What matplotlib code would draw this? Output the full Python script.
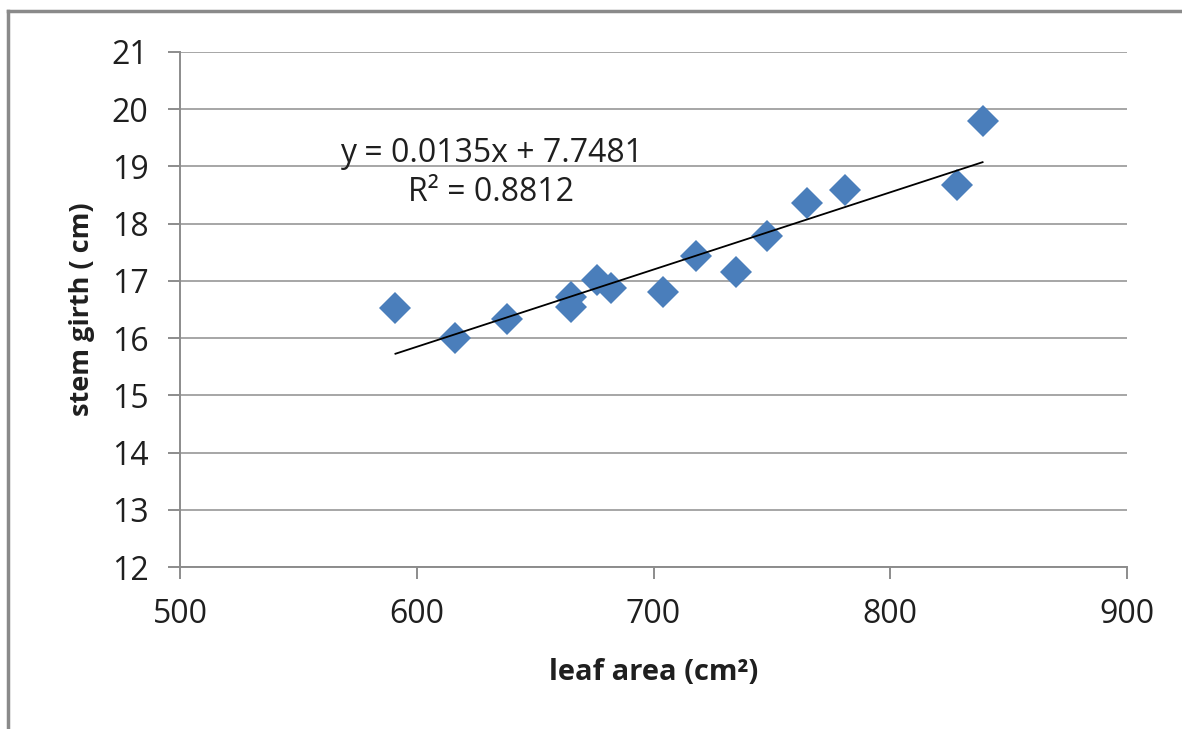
import matplotlib.pyplot as plt
import matplotlib.lines as mlines

# leaf area (cm2) vs stem girth (cm)
leaf_area = [591, 616, 638, 665, 665, 676, 682, 704, 718, 735, 748, 765, 781, 828, 839]
stem_girth = [16.52, 16.00, 16.33, 16.72, 16.54, 17.02, 16.87, 16.80, 17.43, 17.16,
              17.79, 18.36, 18.59, 18.68, 19.79]

# linear trendline as printed on the chart
slope = 0.0135
intercept = 7.7481
r_squared = 0.8812

x_ticks = [500, 600, 700, 800, 900]
y_ticks = list(range(12, 22))

plt.rcParams['font.family'] = ['Open Sans', 'DejaVu Sans']

fig = plt.figure(figsize=(11.82, 7.29), dpi=100, facecolor='white')
ax = fig.add_axes([180 / 1182, 1 - 567 / 729, (1127 - 180) / 1182, (567 - 52) / 729])

grid_col = '#a6a6a6'
axis_col = '#8c8c8c'
text_col = '#1f1f1f'

for yv in y_ticks:
    ax.axhline(yv, color=grid_col, lw=1.4, zorder=1)

# trendline over the data range
x0, x1 = min(leaf_area), max(leaf_area)
ax.plot([x0, x1], [slope * x0 + intercept, slope * x1 + intercept],
        color='black', lw=1.3, zorder=3)

ax.plot(leaf_area, stem_girth, linestyle='none', marker='D', ms=16.5,
        color='#4a7ebb', markeredgewidth=0, zorder=2)

ax.set_xlim(500, 900)
ax.set_ylim(12, 21)
ax.set_xticks(x_ticks)
ax.set_yticks(y_ticks)

for side in ['top', 'right']:
    ax.spines[side].set_visible(False)
for side in ['left', 'bottom']:
    ax.spines[side].set_color(axis_col)
    ax.spines[side].set_linewidth(1.4)

ax.tick_params(axis='both', direction='out', colors=axis_col, width=1.4,
               labelcolor=text_col, labelsize=23)
ax.tick_params(axis='y', length=8.6, pad=14)
ax.tick_params(axis='x', length=8.6, pad=14)

ax.set_xlabel('leaf area (cm²)', fontsize=21, fontweight='bold', labelpad=19,
              color=text_col)
ax.set_ylabel('stem girth ( cm)', fontsize=19.5, fontweight='bold', labelpad=12,
              color=text_col)

eq_text = 'y = {:.4f}x + {:.4f}\nR² = {:.4f}'.format(slope, intercept, r_squared)
ax.text(631.4, 18.89, eq_text, fontsize=23, ha='center', va='center',
        linespacing=1.25, color=text_col, zorder=4)

# grey frame lines at the top and left edges of the image
fig.add_artist(mlines.Line2D([8 / 1182, 8 / 1182], [0, 1 - 11 / 729],
                            color='#8a8a8a', lw=2.5, transform=fig.transFigure))
fig.add_artist(mlines.Line2D([8 / 1182, 1], [1 - 11 / 729, 1 - 11 / 729],
                            color='#8a8a8a', lw=2.5, transform=fig.transFigure))

fig.savefig('out.png', dpi=100)
